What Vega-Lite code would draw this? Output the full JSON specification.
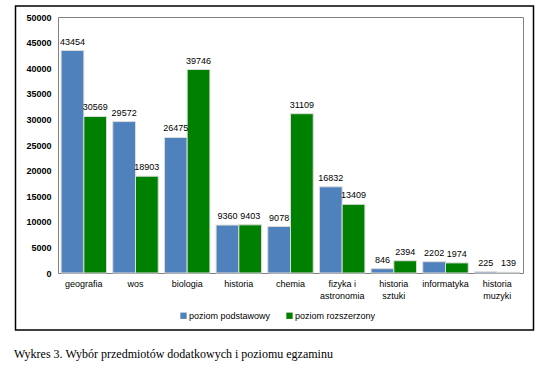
{
  "$schema": "https://vega.github.io/schema/vega-lite/v6.json",
  "autosize": "none",
  "width": 465,
  "height": 256,
  "padding": {"left": 58, "top": 17, "right": 21, "bottom": 97},
  "background": "white",
  "config": {
    "view": {"stroke": "#808080", "strokeWidth": 1},
    "font": "Liberation Sans"
  },
  "title": {
    "text": "Wykres 3. Wybór przedmiotów dodatkowych i poziomu egzaminu",
    "orient": "bottom",
    "anchor": "start",
    "frame": "group",
    "dx": -44,
    "offset": 18,
    "font": "Liberation Serif",
    "fontSize": 12,
    "fontWeight": "normal",
    "color": "black"
  },
  "datasets": {
    "bars": [
      {"przedmiot": "geografia", "poziom": "poziom podstawowy", "liczba": 43454},
      {"przedmiot": "geografia", "poziom": "poziom rozszerzony", "liczba": 30569},
      {"przedmiot": "wos", "poziom": "poziom podstawowy", "liczba": 29572},
      {"przedmiot": "wos", "poziom": "poziom rozszerzony", "liczba": 18903},
      {"przedmiot": "biologia", "poziom": "poziom podstawowy", "liczba": 26475},
      {"przedmiot": "biologia", "poziom": "poziom rozszerzony", "liczba": 39746},
      {"przedmiot": "historia", "poziom": "poziom podstawowy", "liczba": 9360},
      {"przedmiot": "historia", "poziom": "poziom rozszerzony", "liczba": 9403},
      {"przedmiot": "chemia", "poziom": "poziom podstawowy", "liczba": 9078},
      {"przedmiot": "chemia", "poziom": "poziom rozszerzony", "liczba": 31109},
      {"przedmiot": "fizyka i astronomia", "poziom": "poziom podstawowy", "liczba": 16832},
      {"przedmiot": "fizyka i astronomia", "poziom": "poziom rozszerzony", "liczba": 13409},
      {"przedmiot": "historia sztuki", "poziom": "poziom podstawowy", "liczba": 846},
      {"przedmiot": "historia sztuki", "poziom": "poziom rozszerzony", "liczba": 2394},
      {"przedmiot": "informatyka", "poziom": "poziom podstawowy", "liczba": 2202},
      {"przedmiot": "informatyka", "poziom": "poziom rozszerzony", "liczba": 1974},
      {"przedmiot": "historia muzyki", "poziom": "poziom podstawowy", "liczba": 225},
      {"przedmiot": "historia muzyki", "poziom": "poziom rozszerzony", "liczba": 139}
    ]
  },
  "layer": [
    {
      "data": {"name": "bars"},
      "encoding": {
        "x": {
          "field": "przedmiot",
          "type": "nominal",
          "sort": null,
          "scale": {"paddingInner": 0.12, "paddingOuter": 0.06},
          "axis": {
            "title": null,
            "domain": false,
            "ticks": false,
            "labelAngle": 0,
            "labelFont": "Liberation Sans",
            "labelFontSize": 9,
            "labelColor": "black",
            "labelPadding": 6,
            "labelLineHeight": 12,
            "labelOverlap": false,
            "labelExpr": "datum.label == 'fizyka i astronomia' ? ['fizyka i', 'astronomia'] : (indexof(datum.label, ' ') > 0 ? split(datum.label, ' ') : datum.label)"
          }
        },
        "xOffset": {"field": "poziom", "type": "nominal"},
        "y": {
          "field": "liczba",
          "type": "quantitative",
          "scale": {"domain": [0, 50000], "nice": false},
          "axis": {
            "title": null,
            "values": [0, 5000, 10000, 15000, 20000, 25000, 30000, 35000, 40000, 45000, 50000],
            "grid": false,
            "domain": false,
            "ticks": false,
            "labelOverlap": false,
            "labelFont": "Liberation Sans",
            "labelFontSize": 9,
            "labelFontWeight": "bold",
            "labelColor": "black",
            "labelPadding": 7,
            "format": "d"
          }
        }
      },
      "layer": [
        {
          "mark": {"type": "bar", "stroke": "#dcdcdc", "strokeWidth": 1},
          "encoding": {
            "color": {
              "field": "poziom",
              "type": "nominal",
              "scale": {"domain": ["poziom podstawowy", "poziom rozszerzony"], "range": ["#4F81BD", "#008000"]},
              "legend": {
                "title": null,
                "orient": "none",
                "direction": "horizontal",
                "legendX": 121,
                "legendY": 294,
                "symbolType": "square",
                "symbolSize": 40,
                "symbolStrokeWidth": 0,
                "labelFont": "Liberation Sans",
                "labelFontSize": 9,
                "labelColor": "black",
                "labelOffset": 1,
                "columnPadding": 14
              }
            }
          }
        },
        {
          "mark": {"type": "text", "baseline": "bottom", "dy": -4, "fontSize": 9, "font": "Liberation Sans", "color": "black"},
          "encoding": {
            "text": {"field": "liczba", "type": "quantitative", "format": "d"}
          }
        }
      ]
    },
    {
      "data": {"values": [{}]},
      "mark": {"type": "rect", "fill": null, "stroke": "black", "strokeWidth": 1.5},
      "encoding": {
        "x": {"value": -42.5},
        "x2": {"value": 475.5},
        "y": {"value": -11},
        "y2": {"value": 313}
      }
    }
  ]
}
